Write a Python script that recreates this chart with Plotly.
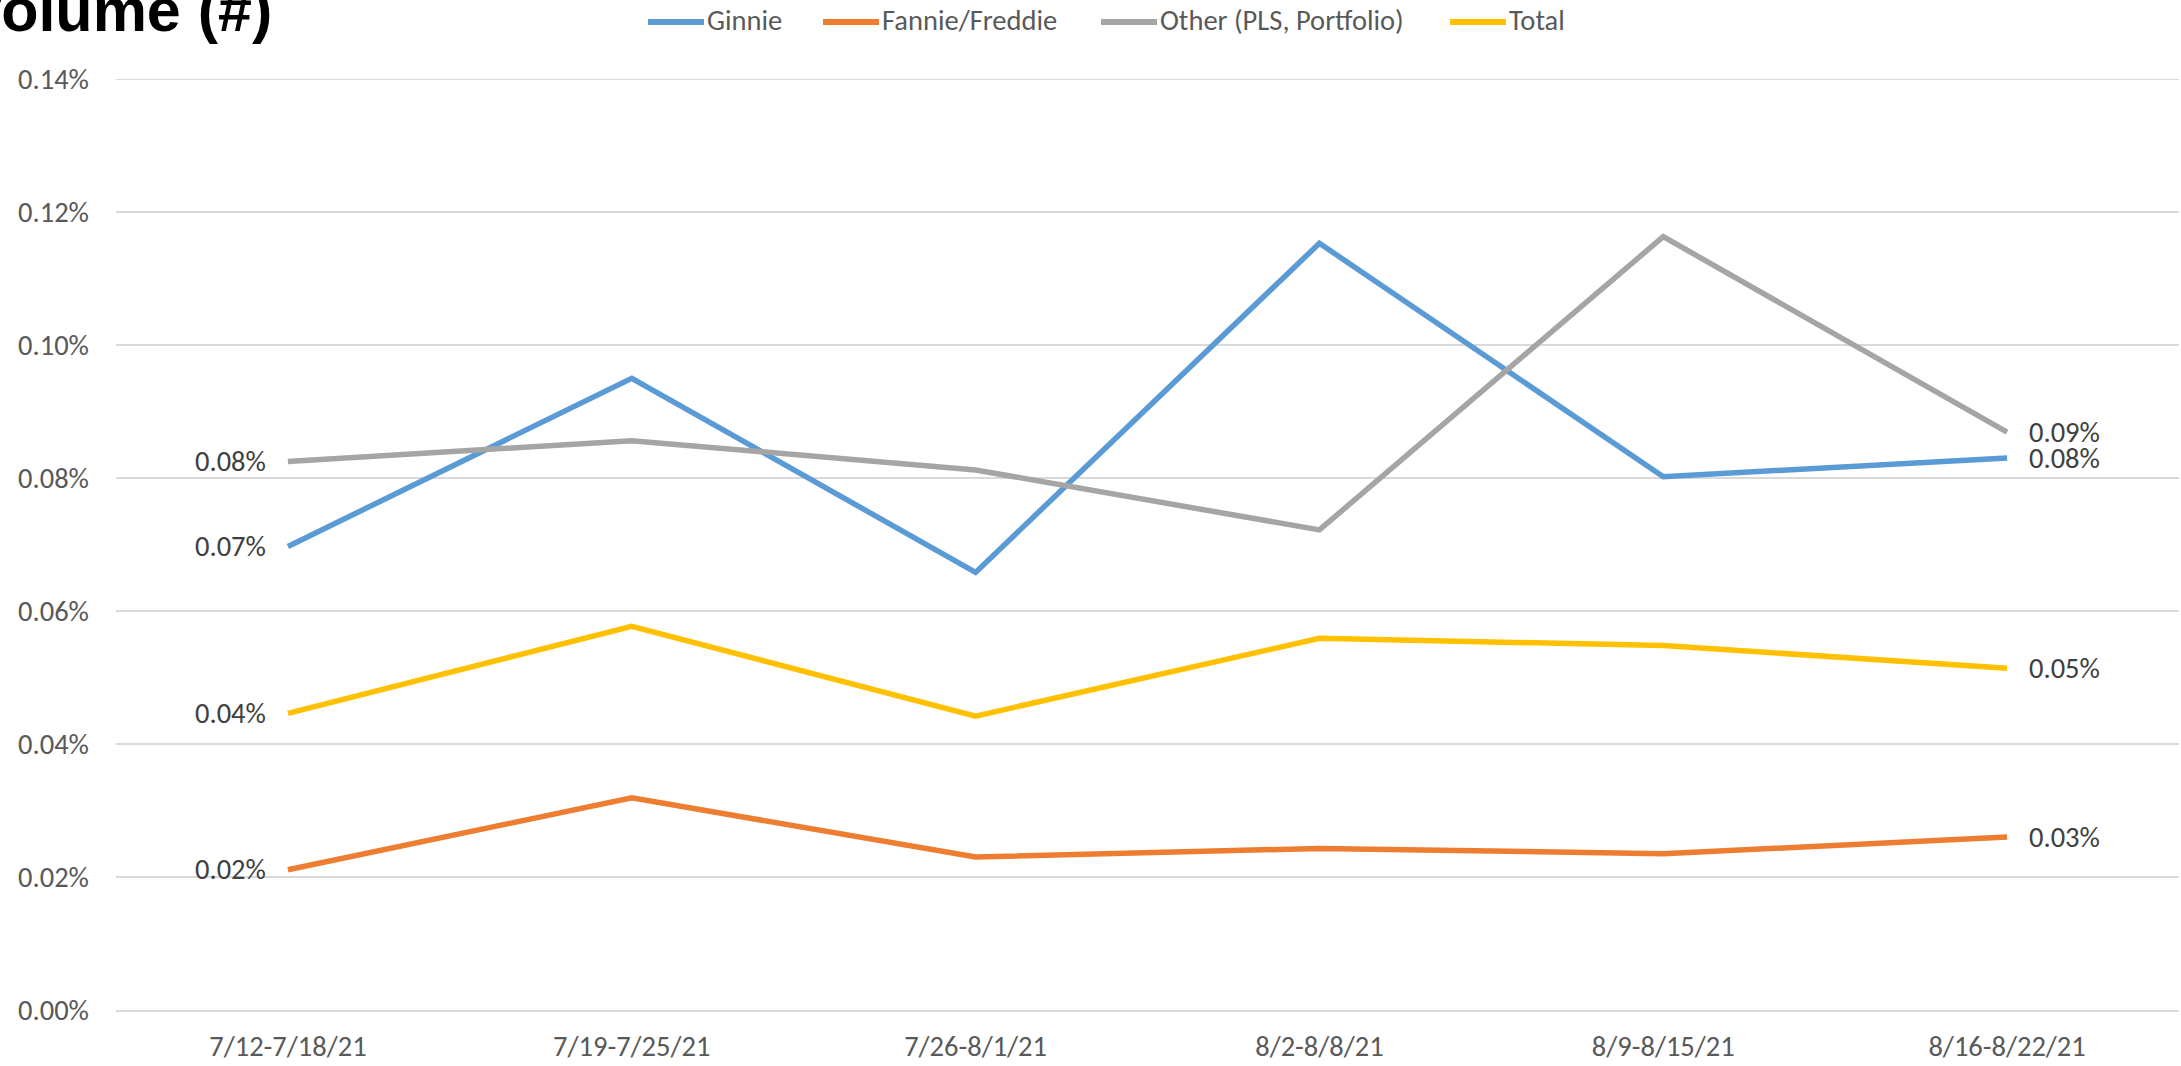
import plotly.graph_objects as go

categories = ["7/12-7/18/21", "7/19-7/25/21", "7/26-8/1/21", "8/2-8/8/21", "8/9-8/15/21", "8/16-8/22/21"]
ginnie = [0.0697, 0.0950, 0.0658, 0.1153, 0.0802, 0.0830]
fannie_freddie = [0.0211, 0.0319, 0.0230, 0.0243, 0.0235, 0.0260]
other = [0.0825, 0.0856, 0.0812, 0.0722, 0.1163, 0.0869]
total = [0.0446, 0.0577, 0.0442, 0.0559, 0.0548, 0.0514]
y_ticks = [0.00, 0.02, 0.04, 0.06, 0.08, 0.10, 0.12, 0.14]

series_names = ["Ginnie", "Fannie/Freddie", "Other (PLS, Portfolio)", "Total"]
series_values = [ginnie, fannie_freddie, other, total]
series_colors = ["#5B9BD5", "#ED7D31", "#A5A5A5", "#FFC000"]

# layout geometry (pixels)
W, H = 2181, 1066
ML, MR, MT, MB = 116, 2, 79, 54
PW, PH = W - ML - MR, H - MT - MB


def px_x(p):
    return (p - ML) / PW


def px_y(p):
    return 1 + (MT - p) / PH


FONT = "Calibri, Carlito, 'DejaVu Sans Condensed', 'Liberation Sans Narrow', sans-serif"
FS = 28.5
GRID = "#D9D9D9"

fig = go.Figure()
annotations = []
shapes = []
for name, vals, color in zip(series_names, series_values, series_colors):
    fig.add_trace(go.Scatter(
        x=categories, y=vals, name=name, mode="lines",
        line=dict(color=color, width=5.5), showlegend=False,
    ))
    annotations.append(dict(
        x=categories[0], y=vals[0], xref="x", yref="y",
        text=f"{vals[0]:.2f}%", showarrow=False, xanchor="right", yanchor="middle",
        xshift=-20, font=dict(family=FONT, size=FS, color="#404040"),
    ))
    annotations.append(dict(
        x=categories[-1], y=vals[-1], xref="x", yref="y",
        text=f"{vals[-1]:.2f}%", showarrow=False, xanchor="left", yanchor="middle",
        xshift=20, font=dict(family=FONT, size=FS, color="#404040"),
    ))

# top gridline (plotly skips the gridline at the very end of the range)
shapes.append(dict(
    type="line", xref="paper", yref="y", x0=0, x1=1, y0=y_ticks[-1], y1=y_ticks[-1],
    line=dict(color=GRID, width=2), layer="below",
))

# legend drawn along the top, as in the reference
legend_starts = [648, 823, 1101, 1450]
LEG_LINE = 56
for name, color, start in zip(series_names, series_colors, legend_starts):
    shapes.append(dict(
        type="line", xref="paper", yref="paper",
        x0=px_x(start), x1=px_x(start + LEG_LINE), y0=px_y(22), y1=px_y(22),
        line=dict(color=color, width=6),
    ))
    annotations.append(dict(
        x=px_x(start + LEG_LINE + 1), y=px_y(20), xref="paper", yref="paper",
        text=name, showarrow=False, xanchor="left", yanchor="middle",
        font=dict(family=FONT, size=FS, color="#595959"),
    ))

annotations.append(dict(
    x=px_x(274), y=px_y(10), xref="paper", yref="paper",
    text="<b>Volume (#)</b>", showarrow=False, xanchor="right", yanchor="middle",
    font=dict(family="Liberation Sans, Arial, sans-serif", size=61, color="#000000"),
))

fig.update_layout(
    width=W, height=H,
    margin=dict(l=ML, r=MR, t=MT, b=MB),
    paper_bgcolor="white", plot_bgcolor="white",
    font=dict(family=FONT, size=FS, color="#595959"),
    showlegend=False,
    annotations=annotations,
    shapes=shapes,
    xaxis=dict(
        type="category", showgrid=False, showline=True, linecolor=GRID, linewidth=2,
        ticks="", ticklabelstandoff=10,
        tickfont=dict(family=FONT, size=FS, color="#595959"),
        range=[-0.5, len(categories) - 0.5],
    ),
    yaxis=dict(
        range=[0, 0.14], tickvals=y_ticks,
        ticktext=[f"{t:.2f}%" for t in y_ticks],
        showgrid=True, gridcolor=GRID, gridwidth=2,
        zeroline=False, showline=False, ticks="", ticklabelstandoff=26,
        tickfont=dict(family=FONT, size=FS, color="#595959"),
    ),
)

fig.write_html(
    "out.html",
    config={"displayModeBar": False},
    post_script="document.body.style.margin='0';",
)
